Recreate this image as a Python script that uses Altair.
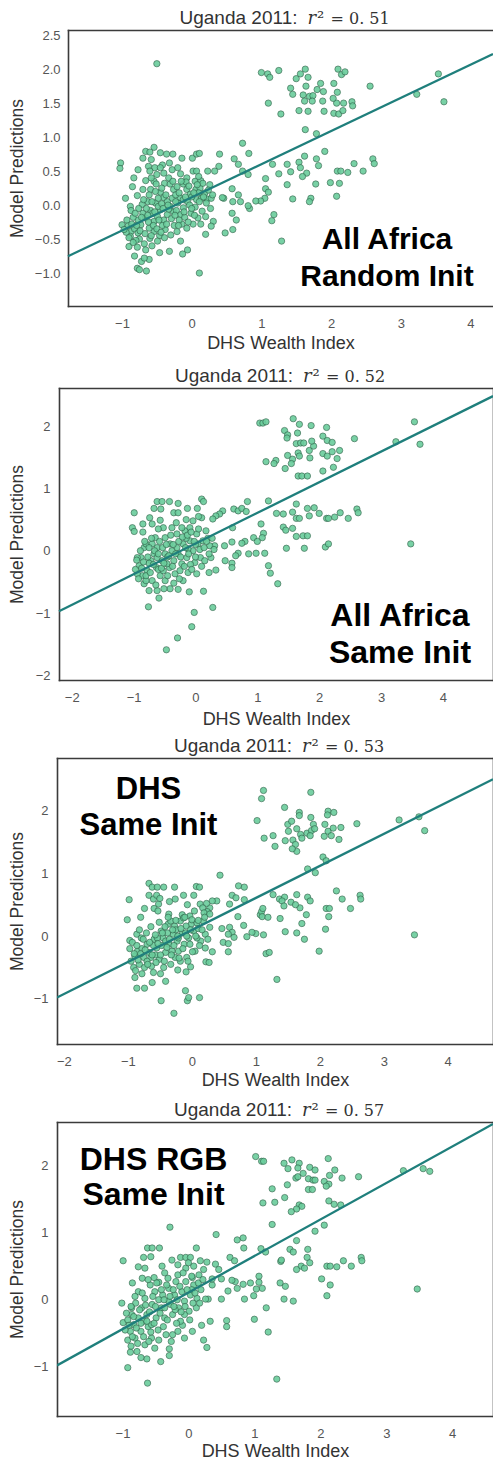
import altair as alt
import pandas as pd

# ------------------------------------------------------------------ data
# (DHS wealth index, model prediction) pairs
p1_points = [
    [-0.50, 2.08],
    [1.00, 1.95], [1.09, 1.93], [1.12, 1.88], [1.25, 1.98], [1.10, 1.50], [1.28, 1.34], [1.42, 1.72],
    [1.45, 1.63], [1.50, 1.86], [1.56, 1.93], [1.63, 2.00], [1.67, 1.88], [1.64, 1.75], [1.60, 1.62],
    [1.62, 1.53], [1.69, 1.60], [1.74, 1.61], [1.80, 1.70], [1.85, 1.79], [1.89, 1.67], [1.88, 1.53],
    [2.04, 1.79], [2.09, 1.66], [2.10, 2.00], [2.15, 1.92], [2.20, 1.96], [2.08, 1.50], [2.18, 1.50],
    [2.30, 1.52], [2.31, 1.46], [2.04, 1.35], [2.11, 1.34], [2.17, 1.39], [1.90, 1.38], [1.67, 1.38],
    [1.54, 1.39], [1.73, 1.53], [2.56, 1.75], [2.03, 1.57], [3.54, 1.93], [3.23, 1.63], [3.62, 1.52],
    [1.63, 1.11], [1.79, 1.05], [1.91, 0.79], [0.73, 0.91], [0.82, 0.76], [0.40, 0.75], [0.61, 0.68],
    [0.67, 0.60], [0.73, 0.50], [0.81, 0.45], [0.39, 0.57], [0.33, 0.50], [1.16, 0.60], [1.25, 0.46],
    [1.37, 0.60], [1.42, 0.49], [1.54, 0.63], [1.62, 0.72], [1.56, 0.55], [1.65, 0.47], [1.59, 0.42],
    [1.79, 0.68], [1.82, 0.58], [2.09, 0.50], [2.14, 0.50], [2.24, 0.48], [2.33, 0.61], [2.46, 0.50],
    [2.60, 0.68], [2.62, 0.61], [1.37, 0.30], [1.78, 0.31], [1.99, 0.33], [2.12, 0.32], [2.08, 0.13],
    [1.71, 0.10], [1.69, 0.05], [1.45, 0.09], [1.06, 0.39], [1.06, 0.24], [1.10, 0.19], [1.05, 0.10],
    [0.99, 0.06], [0.92, 0.06], [0.83, -0.05], [0.81, -0.01], [0.67, 0.15], [0.58, 0.24], [0.59, 0.05],
    [0.70, 0.05], [0.46, 0.10], [0.44, 0.11], [1.18, -0.14], [1.15, -0.23], [1.29, -0.53], [0.58, -0.12],
    [0.64, -0.22], [0.59, -0.36], [0.48, -0.41], [0.31, -0.24], [0.28, -0.31], [0.20, -0.43], [0.11, -1.00],
    [-0.06, -0.66], [-0.13, -0.72], [-0.16, -0.53], [-0.32, -0.68], [-0.90, -0.61], [-0.78, -0.93],
    [-0.65, -0.97], [-0.75, -0.95], [-0.72, -0.83], [-0.61, -0.80], [-0.82, -0.75], [-0.68, -0.78],
    [-1.02, 0.62], [-1.03, 0.54], [-0.85, 0.27], [-0.77, 0.52], [-0.70, 0.69], [-0.66, 0.79], [-0.54, 0.85],
    [-0.45, 0.77], [-0.36, 0.75], [-0.27, 0.75], [-0.14, 0.69], [0.01, 0.69], [0.07, 0.75], [0.11, 0.76],
    [-0.60, 0.78], [-0.58, 0.67], [-0.62, 0.57], [-0.53, 0.55], [-0.60, 0.50], [-0.42, 0.59], [-0.32, 0.62],
    [-0.28, 0.52], [-0.40, 0.47], [-0.16, 0.46], [-0.07, 0.40], [0.02, 0.50], [0.07, 0.50], [0.23, 0.50],
    [0.05, 0.35], [0.13, 0.36], [0.26, 0.30], [0.19, 0.18], [0.22, 0.09], [0.28, 0.10], [0.21, 0.03],
    [-1.00, -0.29], [-0.91, -0.30], [-0.87, -0.39], [-0.88, -0.46], [-0.82, -0.35], [-0.77, -0.41],
    [-0.75, -0.50], [-0.68, -0.57], [-0.66, -0.66], [-0.78, -0.62], [-0.88, -0.02], [-0.87, -0.08],
    [-0.78, 0.14], [-0.71, 0.01], [-0.70, 0.23], [-0.66, 0.36], [-0.59, 0.23], [-0.54, 0.35], [-0.51, 0.31],
    [-0.45, 0.19], [-0.40, 0.11], [-0.39, 0.32], [-0.31, 0.31], [-0.26, 0.23], [-0.21, 0.27], [-0.17, 0.11],
    [-0.12, 0.31], [-0.07, 0.23], [-0.02, 0.16], [0.06, 0.23], [0.12, 0.25], [0.16, 0.32], [-0.70, -0.12],
    [-0.66, -0.19], [-0.59, -0.08], [-0.54, -0.24], [-0.49, -0.17], [-0.45, -0.07], [-0.40, -0.22],
    [-0.35, -0.14], [-0.31, -0.02], [-0.26, -0.10], [-0.20, 0.03], [-0.16, -0.14], [-0.12, -0.04],
    [-0.06, 0.05], [-0.01, -0.12], [0.05, -0.03], [0.09, -0.19], [0.15, -0.09], [0.20, -0.17], [0.02, -0.28],
    [-0.07, -0.34], [-0.14, -0.28], [-0.21, -0.39], [-0.30, -0.44], [-0.38, -0.36], [-0.46, -0.45],
    [-0.54, -0.39], [-0.60, -0.49], [-0.49, -0.53], [-0.61, -0.34], [-0.28, 0.10], [-0.23, 0.15],
    [-0.35, 0.05], [-0.52, 0.03], [-0.63, 0.05], [-0.77, -0.22], [-0.73, -0.29], [0.07, 0.08], [0.14, 0.10],
    [-0.12, 0.08], [-0.48, -0.02], [-0.43, 0.02], [-0.33, -0.06], [-0.22, -0.08], [-0.18, -0.22],
    [-0.10, -0.18], [-0.03, 0.00], [0.00, 0.12], [-0.56, -0.12], [-0.62, -0.25], [-0.84, -0.18],
    [-0.94, -0.40], [-0.80, -0.52], [-0.57, -0.60], [-0.42, -0.30], [-0.25, -0.30], [0.10, 0.18],
    [-0.08, 0.34], [-0.50, 0.45], [-0.46, -0.70],
    [-0.97, -0.36], [-0.93, -0.22], [-0.90, -0.48], [-0.86, -0.28], [-0.84, -0.55], [-0.81, -0.12],
    [-0.79, -0.30], [-0.76, -0.05], [-0.74, -0.38], [-0.72, -0.18], [-0.69, 0.08], [-0.67, -0.42],
    [-0.65, -0.05], [-0.63, -0.15], [-0.61, 0.15], [-0.58, -0.45], [-0.57, 0.05], [-0.55, -0.30],
    [-0.53, -0.10], [-0.52, 0.20], [-0.50, -0.35], [-0.48, 0.10], [-0.47, -0.22], [-0.44, -0.40],
    [-0.43, 0.25], [-0.41, -0.05], [-0.39, -0.48], [-0.37, 0.15], [-0.36, -0.28], [-0.34, 0.00],
    [-0.33, 0.40], [-0.29, -0.20], [-0.27, 0.35], [-0.24, -0.15], [-0.23, 0.05], [-0.19, -0.30],
    [-0.18, 0.18], [-0.15, 0.35], [-0.11, -0.10], [-0.09, 0.12], [-0.05, -0.25], [-0.04, 0.28],
    [0.00, -0.05], [0.03, 0.18], [0.04, -0.15], [0.08, 0.30], [0.11, 0.05], [0.13, -0.28], [0.17, 0.12],
    [0.24, 0.22], [0.27, -0.05], [0.30, 0.15], [-0.58, 0.40], [-0.45, 0.55], [-0.20, 0.55], [0.10, 0.42],
    [-0.83, 0.40], [-0.95, 0.10],
]

p2_points = [
    [1.04, 2.05], [1.09, 2.05], [1.14, 2.07], [1.58, 2.12], [1.68, 2.03], [1.87, 2.01], [2.12, 1.98],
    [1.44, 1.93], [1.49, 1.86], [1.48, 1.81], [1.65, 1.89], [2.06, 1.84], [2.13, 1.77], [2.21, 1.74],
    [2.57, 1.80], [1.63, 1.72], [1.70, 1.73], [1.75, 1.73], [1.84, 1.61], [1.91, 1.68], [1.88, 1.76],
    [1.66, 1.57], [1.68, 1.52], [1.49, 1.53], [1.57, 1.47], [1.85, 1.49], [2.06, 1.56], [2.13, 1.52],
    [2.21, 1.59], [2.33, 1.61], [2.29, 1.48], [2.23, 1.34], [2.06, 1.28], [1.14, 1.43], [1.30, 1.45],
    [1.27, 1.40], [1.45, 1.32], [1.55, 1.40], [1.66, 1.20], [1.72, 1.20], [1.81, 1.20], [3.24, 1.75],
    [3.54, 2.07], [3.63, 1.71], [3.48, 0.11],
    [1.18, 0.80], [0.84, 0.79], [0.62, 0.67], [0.69, 0.64], [0.75, 0.68], [0.82, 0.63], [0.44, 0.64],
    [0.39, 0.59], [0.33, 0.56], [0.28, 0.51], [1.63, 0.75], [1.31, 0.60], [1.42, 0.59], [1.57, 0.62],
    [1.63, 0.52], [1.68, 0.52], [1.81, 0.68], [1.92, 0.69], [1.84, 0.56], [2.00, 0.60], [2.12, 0.52],
    [2.15, 0.52], [2.25, 0.54], [2.34, 0.61], [2.47, 0.52], [2.61, 0.67], [2.63, 0.61], [1.42, 0.38],
    [1.46, 0.33], [1.57, 0.36], [1.63, 0.23], [1.74, 0.24], [1.81, 0.24], [1.47, 0.04], [1.76, 0.04],
    [2.10, 0.06], [2.15, 0.11], [1.06, 0.43], [1.10, 0.28], [1.08, 0.21], [0.94, 0.21], [1.00, 0.15],
    [1.12, -0.04], [0.98, -0.04], [0.86, -0.05], [0.69, -0.04], [0.65, -0.08], [0.80, 0.15], [0.75, 0.12],
    [0.59, 0.14], [0.60, 0.37], [0.47, 0.08], [0.31, 0.08], [0.48, -0.16], [0.59, -0.20], [0.59, -0.27],
    [0.33, -0.31], [0.22, -0.35], [0.28, -0.91], [1.18, -0.24], [1.21, -0.36], [1.33, -0.53], [0.13, -0.65],
    [-0.10, -0.66], [-0.02, -0.99], [-0.06, -1.22], [-0.29, -1.40], [-0.47, -1.59], [-0.28, -0.62],
    [-0.35, -0.52], [-0.59, -0.76], [-0.76, -0.90], [0.10, 0.83], [0.13, 0.79], [0.03, 0.68], [0.10, 0.53],
    [-0.13, 0.68], [-0.28, 0.76], [-0.35, 0.61], [-0.28, 0.61], [-0.62, 0.79], [-0.54, 0.79], [-0.42, 0.79],
    [-0.67, 0.68], [-0.56, 0.67], [-0.99, 0.61], [-1.02, 0.37], [-0.99, 0.31], [-0.85, 0.43], [-0.74, 0.53],
    [-0.70, 0.43], [-0.57, 0.49], [-0.52, 0.37], [-0.65, 0.21], [-0.83, 0.05],
    [-0.88, -0.11], [-0.91, -0.24], [-0.86, -0.40], [-0.83, -0.53], [-0.78, -0.32], [-0.72, -0.16],
    [-0.67, -0.05], [-0.62, 0.05], [-0.63, -0.27], [-0.57, -0.40], [-0.54, -0.16], [-0.49, -0.05],
    [-0.49, -0.48], [-0.42, -0.27], [-0.41, 0.11], [-0.35, -0.16], [-0.33, -0.37], [-0.30, 0.27],
    [-0.28, -0.05], [-0.22, -0.21], [-0.20, 0.11], [-0.17, 0.32], [-0.14, -0.11], [-0.12, -0.35],
    [-0.09, 0.16], [-0.04, 0.00], [-0.01, -0.19], [0.02, 0.27], [0.04, 0.11], [0.08, -0.11], [0.12, 0.16],
    [0.17, 0.32], [0.23, 0.08], [0.25, -0.11], [0.02, -0.37], [-0.20, -0.48], [-0.41, -0.61], [-0.51, -0.61],
    [-0.70, -0.48], [-0.80, -0.48], [-0.94, -0.37], [-0.94, -0.11], [-0.80, 0.11], [-0.70, 0.11],
    [-0.49, 0.21], [-0.38, 0.37], [-0.22, 0.37], [-0.09, 0.37], [-0.04, 0.48], [-0.46, -0.21],
    [-0.62, -0.11], [-0.25, -0.32], [-0.12, 0.03], [0.15, -0.16], [-0.75, -0.64], [-0.62, -0.64],
    [-0.60, -0.30], [-0.45, -0.10], [-0.30, 0.05], [-0.15, 0.20], [0.00, 0.10], [-0.75, -0.20],
    [-0.52, -0.32], [-0.38, 0.00], [-0.08, -0.22], [0.20, 0.20],
    [-0.97, -0.30], [-0.95, -0.15], [-0.92, -0.45], [-0.89, 0.00], [-0.87, -0.28], [-0.84, -0.18],
    [-0.82, 0.15], [-0.80, -0.40], [-0.77, -0.10], [-0.75, 0.05], [-0.73, -0.35], [-0.71, 0.20],
    [-0.68, -0.22], [-0.66, 0.00], [-0.64, -0.55], [-0.60, -0.05], [-0.58, 0.15], [-0.55, -0.28],
    [-0.53, 0.05], [-0.51, -0.20], [-0.47, 0.10], [-0.45, -0.40], [-0.43, -0.08], [-0.40, 0.25],
    [-0.37, -0.25], [-0.36, 0.10], [-0.32, -0.05], [-0.31, 0.45], [-0.27, 0.15], [-0.26, -0.45],
    [-0.24, -0.10], [-0.21, 0.22], [-0.18, -0.25], [-0.16, 0.05], [-0.13, 0.25], [-0.11, -0.05],
    [-0.07, 0.30], [-0.06, -0.30], [-0.02, 0.15], [0.00, -0.10], [0.05, 0.35], [0.07, 0.02],
    [0.10, -0.25], [0.14, 0.05], [0.18, 0.15], [0.22, -0.05], [0.27, 0.20], [0.30, 0.02], [-0.85, 0.30],
    [-0.60, 0.35], [-0.15, 0.50], [0.05, 0.55],
]

p3_points = [
    [1.12, 2.32], [1.09, 2.19], [1.86, 2.29], [1.45, 2.05], [1.02, 1.84], [1.13, 1.56], [1.27, 1.60],
    [1.30, 1.43], [1.46, 1.52], [1.50, 1.78], [1.56, 1.83], [1.68, 1.97], [1.68, 1.92], [1.86, 1.89],
    [2.13, 1.99], [2.22, 1.97], [2.12, 1.93], [2.08, 1.78], [1.51, 1.67], [1.58, 1.53], [1.62, 1.46],
    [1.64, 1.35], [1.57, 1.39], [1.64, 1.71], [1.70, 1.62], [1.72, 1.56], [1.80, 1.64], [1.87, 1.68],
    [1.90, 1.78], [1.92, 1.71], [1.85, 1.60], [2.07, 1.59], [2.13, 1.67], [2.21, 1.72], [2.18, 1.60],
    [2.33, 1.73], [2.30, 1.54], [2.58, 1.79], [2.05, 1.26], [2.10, 1.20], [1.81, 1.07], [1.93, 1.01],
    [0.44, 0.97], [3.24, 1.85], [3.55, 1.90], [3.64, 1.68], [3.48, 0.02],
    [0.73, 0.80], [0.82, 0.78], [0.63, 0.65], [0.69, 0.61], [0.82, 0.58], [0.39, 0.56], [0.28, 0.45],
    [0.24, 0.39], [0.59, 0.51], [1.27, 0.66], [1.37, 0.59], [1.45, 0.62], [1.41, 0.56], [1.44, 0.48],
    [1.55, 0.54], [1.64, 0.66], [1.69, 0.45], [1.62, 0.50], [1.81, 0.62], [1.85, 0.56], [1.79, 0.34],
    [2.26, 0.72], [2.35, 0.59], [2.48, 0.44], [2.63, 0.65], [2.64, 0.59], [2.10, 0.44], [2.15, 0.44],
    [2.14, 0.31], [2.09, 0.11], [1.72, 0.20], [1.64, 0.05], [1.46, 0.07], [1.76, -0.05], [1.99, -0.24],
    [1.38, 0.28], [1.07, 0.34], [1.09, 0.39], [1.10, 0.31], [1.19, 0.30], [1.11, 0.44], [1.00, 0.04],
    [0.94, 0.06], [1.12, 0.02], [0.86, -0.01], [0.81, 0.17], [0.72, 0.31], [0.59, 0.14], [0.63, 0.06],
    [0.47, 0.12], [0.57, 0.03], [0.66, -0.02], [0.49, -0.10], [0.57, -0.12], [0.57, -0.25], [0.32, -0.25],
    [0.22, -0.41], [0.27, -0.42], [1.16, -0.28], [1.21, -0.26], [1.33, -0.69], [-0.10, -0.87],
    [-0.07, -1.03], [-0.05, -0.98], [0.12, -0.98], [-0.48, -1.03], [-0.28, -1.23], [-0.22, -0.54],
    [-0.09, -0.57], [-0.02, -0.49], [-0.41, -0.72], [-0.49, -0.60], [-0.62, -0.74], [-0.74, -0.83],
    [-0.86, -0.83], [-0.89, -0.66], [-0.98, 0.58], [-1.01, 0.26], [-0.97, -0.07], [-0.86, 0.03],
    [-0.74, 0.44], [-0.67, 0.84], [-0.62, 0.78], [-0.54, 0.78], [-0.44, 0.78], [-0.27, 0.78], [-0.67, 0.65],
    [-0.60, 0.59], [-0.55, 0.65], [-0.52, 0.51], [-0.59, 0.44], [-0.53, 0.40], [-0.36, 0.35], [-0.26, 0.59],
    [-0.13, 0.65], [0.03, 0.65], [0.07, 0.79], [0.12, 0.78], [-0.07, 0.50], [0.13, 0.51], [0.23, 0.52],
    [0.32, 0.56], [0.17, 0.45], [-0.15, 0.34], [-0.03, 0.32], [0.19, 0.37], [0.28, 0.35], [-0.01, 0.19],
    [0.08, 0.21], [0.18, 0.24], [0.28, 0.14], [0.21, 0.03], [0.14, -0.08], [0.21, -0.19],
    [-0.85, -0.24], [-0.89, -0.32], [-0.91, -0.50], [-0.82, -0.45], [-0.75, -0.34], [-0.70, -0.13],
    [-0.67, -0.26], [-0.63, -0.48], [-0.59, -0.05], [-0.55, -0.19], [-0.51, -0.37], [-0.48, 0.08],
    [-0.45, -0.03], [-0.41, -0.26], [-0.37, 0.19], [-0.36, -0.13], [-0.33, -0.45], [-0.29, 0.03],
    [-0.27, 0.16], [-0.23, -0.08], [-0.21, -0.24], [-0.18, 0.24], [-0.15, 0.05], [-0.12, -0.13],
    [-0.09, 0.16], [-0.05, -0.03], [0.00, 0.26], [0.03, 0.08], [0.05, -0.24], [-0.08, -0.34],
    [-0.18, -0.40], [-0.41, -0.08], [-0.31, -0.24], [-0.64, -0.34], [-0.74, -0.50], [-0.44, -0.50],
    [-0.79, -0.03], [-0.54, -0.03], [-0.21, -0.03], [-0.33, 0.24], [-0.13, 0.29], [0.08, -0.03],
    [-0.03, -0.13], [-0.26, -0.34], [-0.78, -0.20], [-0.60, -0.15], [-0.47, -0.15], [-0.38, 0.05],
    [-0.25, 0.10], [-0.10, 0.05], [0.10, 0.12], [-0.70, -0.40], [-0.57, -0.30],
    [-0.97, -0.20], [-0.95, -0.40], [-0.93, -0.10], [-0.90, -0.28], [-0.88, -0.55], [-0.86, -0.15],
    [-0.84, -0.38], [-0.82, 0.10], [-0.80, -0.28], [-0.78, -0.60], [-0.76, -0.05], [-0.73, -0.22],
    [-0.71, 0.05], [-0.69, -0.45], [-0.66, -0.10], [-0.64, 0.15], [-0.62, -0.30], [-0.60, -0.58],
    [-0.57, 0.02], [-0.56, -0.42], [-0.53, -0.12], [-0.51, 0.22], [-0.49, -0.30], [-0.46, 0.05],
    [-0.43, -0.40], [-0.42, 0.15], [-0.39, -0.18], [-0.37, 0.30], [-0.35, -0.05], [-0.32, -0.30],
    [-0.30, 0.10], [-0.28, -0.15], [-0.25, 0.25], [-0.22, 0.00], [-0.20, -0.35], [-0.17, 0.12],
    [-0.14, -0.20], [-0.11, 0.30], [-0.08, 0.00], [-0.06, -0.40], [-0.02, 0.10], [0.01, -0.25],
    [0.04, 0.40], [0.06, 0.00], [0.10, 0.25], [0.12, -0.15], [0.16, 0.10], [0.20, 0.30], [0.25, -0.05],
    [-0.50, 0.60], [-0.80, 0.30], [-0.35, 0.55],
]

p4_points = [
    [1.02, 2.13], [1.11, 2.06], [1.14, 2.06], [1.45, 2.03], [1.57, 2.08], [1.68, 2.03], [1.51, 1.95],
    [1.66, 1.96], [1.84, 1.97], [1.92, 1.93], [2.12, 2.10], [2.22, 1.93], [2.33, 1.81], [2.58, 1.83],
    [1.63, 1.81], [1.66, 1.83], [1.74, 1.88], [1.82, 1.80], [1.89, 1.78], [1.92, 1.78], [2.06, 1.76],
    [2.14, 1.85], [2.13, 1.72], [2.09, 1.69], [1.50, 1.71], [1.27, 1.65], [1.82, 1.64], [1.88, 1.64],
    [1.46, 1.52], [1.31, 1.45], [1.13, 1.44], [2.13, 1.47], [2.21, 1.42], [2.31, 1.41], [1.68, 1.41],
    [1.72, 1.39], [1.64, 1.35], [1.56, 1.31], [1.27, 1.12], [2.06, 1.11], [1.92, 1.02], [1.64, 0.88],
    [3.26, 1.92], [3.56, 1.95], [3.66, 1.91], [3.47, 0.16],
    [-0.28, 1.08], [0.42, 0.97], [0.74, 0.89], [0.83, 0.92], [0.84, 0.77], [0.12, 0.77], [0.63, 0.63],
    [0.70, 0.58], [1.10, 0.76], [1.17, 0.71], [1.40, 0.57], [1.41, 0.59], [1.54, 0.75], [1.59, 0.71],
    [1.81, 0.75], [1.80, 0.63], [1.84, 0.55], [1.71, 0.50], [1.64, 0.45], [1.76, 0.47], [2.10, 0.50],
    [2.15, 0.50], [2.25, 0.49], [2.35, 0.58], [2.47, 0.50], [2.62, 0.63], [2.63, 0.58], [2.02, 0.31],
    [2.15, 0.22], [2.10, 0.06], [1.39, 0.25], [1.47, 0.20], [1.45, 0.01], [1.59, -0.02], [1.07, 0.35],
    [1.07, 0.26], [1.12, 0.17], [1.03, 0.16], [0.99, 0.06], [1.18, -0.12], [0.85, 0.01], [0.94, 0.25],
    [0.83, 0.23], [0.74, 0.17], [0.71, 0.27], [0.66, 0.29], [0.60, 0.13], [0.50, 0.31], [0.50, 0.01],
    [0.36, 0.22], [0.30, 0.01], [0.58, -0.31], [0.58, -0.40], [1.00, -0.29], [1.21, -0.48], [1.34, -1.18],
    [0.33, -0.32], [0.23, -0.60], [0.28, -0.71], [0.20, -0.38], [0.06, -0.47], [-0.06, -0.57],
    [-0.09, -0.38], [-0.29, -0.73], [-0.29, -0.83], [-0.42, -0.92], [-0.63, -0.88], [-0.72, -0.86],
    [-0.92, -1.01], [-0.62, -1.24], [-0.88, -0.78], [-0.87, -0.69], [-0.99, -0.34], [-1.01, -0.05],
    [-0.99, 0.58], [-0.86, -0.12], [-0.76, 0.49], [-0.70, 0.32], [-0.68, 0.63], [-0.62, 0.77],
    [-0.55, 0.77], [-0.44, 0.77], [-0.57, 0.64], [-0.66, 0.47], [-0.52, 0.33], [-0.45, 0.26], [-0.36, 0.40],
    [-0.25, 0.59], [-0.12, 0.63], [-0.04, 0.63], [0.03, 0.63], [0.08, 0.50], [0.18, 0.58], [0.28, 0.56],
    [0.41, 0.53], [0.46, 0.45], [0.23, 0.45], [-0.04, 0.47], [-0.16, 0.52], [0.06, 0.33], [0.16, 0.37],
    [0.36, 0.31], [0.19, 0.15], [0.26, 0.01], [0.13, 0.02],
    [-0.86, -0.22], [-0.83, -0.37], [-0.88, -0.47], [-0.81, -0.57], [-0.76, -0.27], [-0.71, -0.12],
    [-0.72, -0.47], [-0.66, 0.02], [-0.63, -0.22], [-0.61, -0.40], [-0.56, -0.57], [-0.55, -0.07],
    [-0.51, 0.12], [-0.49, -0.27], [-0.46, -0.45], [-0.41, -0.12], [-0.39, 0.07], [-0.36, -0.27],
    [-0.34, -0.52], [-0.30, 0.17], [-0.27, -0.07], [-0.24, -0.22], [-0.21, 0.07], [-0.19, 0.27],
    [-0.15, -0.12], [-0.12, -0.32], [-0.10, 0.12], [-0.06, -0.02], [-0.04, 0.27], [0.01, -0.17],
    [0.03, 0.07], [0.08, 0.22], [0.12, -0.12], [-0.58, 0.22], [-0.76, 0.12], [-0.56, -0.37],
    [-0.36, -0.12], [-0.16, -0.47], [-0.24, -0.52], [-0.51, -0.72], [-0.66, -0.67], [-0.78, -0.77],
    [-0.06, -0.22], [-0.16, 0.37], [-0.31, 0.32], [-0.80, -0.05], [-0.68, -0.32], [-0.45, 0.00],
    [-0.30, -0.02], [-0.20, -0.15], [0.05, 0.15], [-0.92, -0.30], [-0.60, -0.62],
    [-0.96, -0.45], [-0.94, -0.20], [-0.92, -0.60], [-0.90, -0.38], [-0.87, -0.10], [-0.85, -0.55],
    [-0.83, -0.25], [-0.81, 0.05], [-0.79, -0.42], [-0.77, -0.65], [-0.74, -0.15], [-0.72, -0.35],
    [-0.70, 0.10], [-0.68, -0.55], [-0.65, -0.08], [-0.63, -0.32], [-0.61, 0.30], [-0.59, -0.18],
    [-0.57, -0.48], [-0.54, 0.05], [-0.52, -0.35], [-0.50, -0.10], [-0.48, 0.25], [-0.45, -0.60],
    [-0.43, -0.20], [-0.41, 0.15], [-0.38, -0.40], [-0.37, 0.00], [-0.33, 0.22], [-0.32, -0.30],
    [-0.28, 0.05], [-0.26, -0.62], [-0.23, 0.15], [-0.22, -0.10], [-0.18, -0.35], [-0.17, 0.00],
    [-0.13, 0.20], [-0.11, -0.18], [-0.08, 0.40], [-0.05, -0.10], [-0.02, 0.15], [0.02, -0.30],
    [0.05, 0.35], [0.07, -0.05], [0.10, 0.10], [0.15, 0.25], [0.17, -0.05], [0.22, 0.30], [-0.85, 0.25],
    [-0.40, 0.50], [0.00, 0.55],
]

panel_points = [p1_points, p2_points, p3_points, p4_points]

r2_values = ["0. 51", "0. 52", "0. 53", "0. 57"]
label_top = ["All Africa", "All Africa", "DHS", "DHS RGB"]
label_bottom = ["Random Init", "Same Init", "Same Init", "Same Init"]

x_domains = [[-1.775, 4.324], [-2.206, 4.810], [-2.108, 4.708], [-1.993, 4.619]]
y_domains = [[-1.485, 2.576], [-2.075, 2.613], [-1.719, 2.837], [-1.729, 2.644]]
x_tick_values = [[-1, 0, 1, 2, 3, 4], [-2, -1, 0, 1, 2, 3, 4], [-2, -1, 0, 1, 2, 3, 4], [-1, 0, 1, 2, 3, 4]]
y_tick_values = [[-1.0, -0.5, 0.0, 0.5, 1.0, 1.5, 2.0, 2.5], [-2, -1, 0, 1, 2], [-1, 0, 1, 2], [-1, 0, 1, 2]]
y_tick_format = [".1f", "d", "d", "d"]

# fitted regression line end points
fit_x = [[-1.775, 4.324], [-2.206, 4.810], [-2.108, 4.708], [-1.993, 4.619]]
fit_y = [[-0.752, 2.222], [-0.971, 2.483], [-0.978, 2.499], [-0.976, 2.615]]

# ------------------------------------------------------------------ layout (pixels)
GROUP_W = 436
plot_h = [276, 292, 286, 294]
extra_below = [4, 0, 0, 0]
x_range = [[11, 436], [2, 436], [0, 436], [0, 436]]
left_offset = [-11, -2, 0, 0]
has_right_axis = [False, True, True, True]
y_label_pad = [8, 9, 9, 9]
y_title_x = [-51, -42, -40, -40]
x_title_y = [37, 39, 36, 35]
anno_x = [330, 343, 91.5, 96.5]
anno_y1 = [210, 228, 31.5, 37.5]
anno_y2 = [246.5, 265, 67.5, 73]
anno_size = [30, 32, 31, 32]
TITLE_BASE = -6.5

POINT_FILL = "#6acd9c"
POINT_EDGE = "#2e6148"
LINE_COLOR = "#1f7f7c"
FRAME = "#3b3b3b"
SANS = "Liberation Sans"
SERIF = "DejaVu Serif"


def text_layer(txt, x, y, **kw):
    return alt.Chart(pd.DataFrame({"t": [txt]})).mark_text(**kw).encode(
        x=alt.value(x), y=alt.value(y), text=alt.Text("t:N")
    )


def make_panel(i):
    pts = pd.DataFrame(panel_points[i], columns=["x", "y"])
    fit = pd.DataFrame({"x": fit_x[i], "y": fit_y[i]})
    xs = alt.Scale(domain=x_domains[i], range=x_range[i], nice=False, zero=False)
    ys = alt.Scale(domain=y_domains[i], range=[plot_h[i], 0], nice=False, zero=False)

    scatter = alt.Chart(pts).mark_circle(
        size=40, color=POINT_FILL, opacity=0.9, stroke=POINT_EDGE, strokeWidth=0.7, clip=True
    ).encode(
        x=alt.X("x:Q", scale=xs, axis=alt.Axis(
            orient="bottom", values=x_tick_values[i], format="d", title="DHS Wealth Index",
            labelPadding=11, offset=-extra_below[i], titleY=x_title_y[i], titleBaseline="middle",
            titleFontSize=18, labelFlush=False)),
        y=alt.Y("y:Q", scale=ys, axis=alt.Axis(
            orient="left", values=y_tick_values[i], format=y_tick_format[i], title="Model Predictions",
            labelPadding=y_label_pad[i], offset=left_offset[i], titleX=y_title_x[i],
            titleY=plot_h[i] / 2, titleBaseline="middle", titleAngle=270, titleFontSize=17.5)),
    )

    if has_right_axis[i]:
        y_enc = alt.Y("y:Q", scale=ys, axis=alt.Axis(orient="right", labels=False, title=None))
    else:
        y_enc = alt.Y("y:Q", scale=ys, axis=None)

    line = alt.Chart(fit).mark_line(color=LINE_COLOR, strokeWidth=2.3, clip=True).encode(
        x=alt.X("x:Q", scale=xs, axis=alt.Axis(orient="top", labels=False, title=None)),
        y=y_enc,
    )

    c = (x_range[i][0] + x_range[i][1]) / 2
    t_a = text_layer("Uganda 2011:", c + 17, TITLE_BASE, align="right", baseline="alphabetic",
                     font=SANS, fontSize=19, color="#333333")
    t_b = text_layer("r", c + 27, TITLE_BASE, align="left", baseline="alphabetic",
                     font=SERIF, fontStyle="italic", fontSize=18, color="#333333")
    t_c = text_layer("\u00b2", c + 36.5, TITLE_BASE, align="left", baseline="alphabetic",
                     font=SERIF, fontSize=18, color="#333333")
    t_d = text_layer("= " + r2_values[i], c + 50, TITLE_BASE, align="left", baseline="alphabetic",
                     font=SERIF, fontSize=16, color="#333333")

    a1 = text_layer(label_top[i], anno_x[i], anno_y1[i], align="center", baseline="middle",
                    font=SANS, fontWeight="bold", fontSize=anno_size[i], color="black")
    a2 = text_layer(label_bottom[i], anno_x[i], anno_y2[i], align="center", baseline="middle",
                    font=SANS, fontWeight="bold", fontSize=anno_size[i], color="black")

    return alt.layer(scatter, line, t_a, t_b, t_c, t_d, a1, a2).resolve_axis(
        x="independent", y="independent"
    ).properties(width=GROUP_W, height=plot_h[i] + extra_below[i])


chart = alt.vconcat(
    *[make_panel(i) for i in range(4)], spacing=78, bounds="flush"
).properties(
    padding=0
).configure_view(
    strokeWidth=0
).configure_axis(
    ticks=False, grid=False,
    domainColor=FRAME, domainWidth=1.6, domainCap="square",
    labelFont=SANS, labelFontSize=13, labelColor="#555555",
    titleFont=SANS, titleColor="#333333", titleFontWeight="normal",
)

chart.save("out.html", embed_options={"renderer": "svg", "actions": False})
